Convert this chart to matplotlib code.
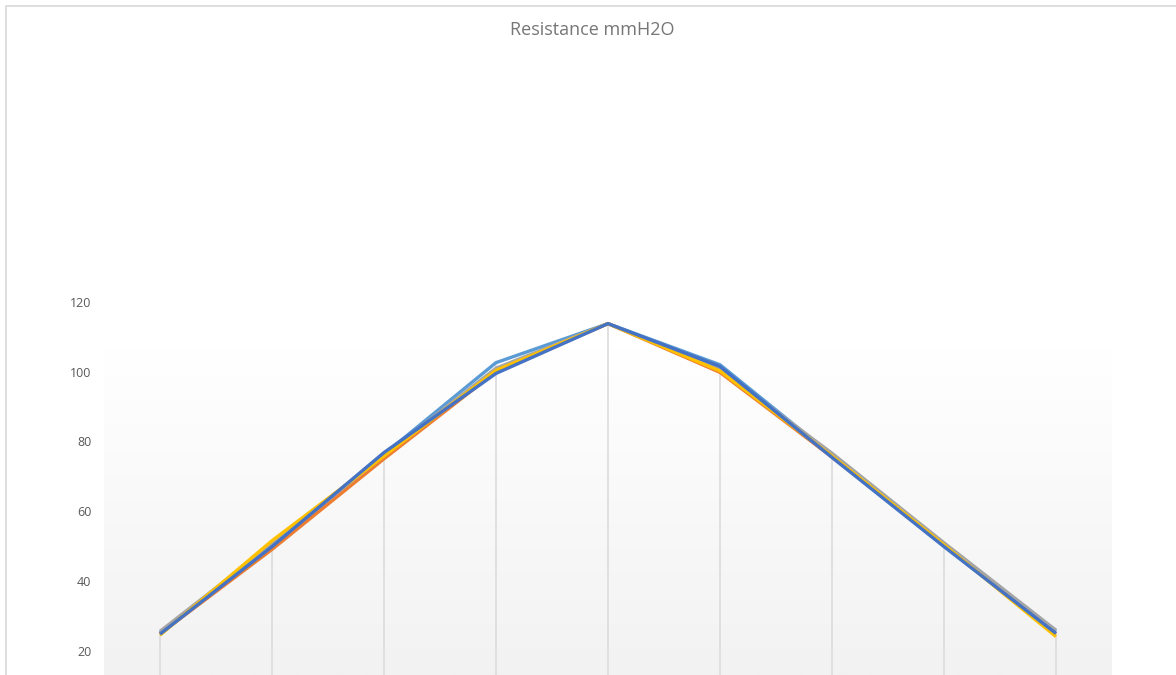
import numpy as np
import matplotlib
matplotlib.use("Agg")
import matplotlib.pyplot as plt
from matplotlib.patches import Rectangle

# Nine measuring points, five runs
points = list(range(1, 10))
run_a = [25.2, 50.0, 76.3, 102.6, 113.8, 102.0, 76.0, 50.5, 25.6]
run_b = [24.8, 49.0, 75.0, 100.0, 113.8, 99.8, 75.5, 50.2, 24.8]
run_c = [25.5, 50.5, 76.0, 101.0, 113.8, 100.6, 76.6, 50.9, 25.8]
run_d = [24.4, 51.5, 75.8, 100.4, 113.8, 100.2, 75.8, 50.3, 24.0]
run_e = [24.7, 49.8, 76.8, 99.5, 113.8, 101.5, 75.4, 49.8, 24.9]
yticks = [20, 40, 60, 80, 100, 120]

series = [run_a, run_b, run_c, run_d, run_e]
colors = ["#5B9BD5", "#ED7D31", "#A5A5A5", "#FFC000", "#4472C4"]

W, H = 1176, 675
fig = plt.figure(figsize=(W / 100, H / 100), dpi=100)
fig.patch.set_facecolor("white")

# chart border (only top and left edges fall inside the canvas)
fig.patches.append(Rectangle((6 / W, -0.1), 1.2, (H - 6) / H + 0.1,
                             transform=fig.transFigure, fill=False,
                             edgecolor="#d9d9d9", linewidth=1.2))

px_per_unit = 69.7 / 20
y_top_px, y_bot_px = 302, 675
ymax = 120
ymin = 120 - (y_bot_px - y_top_px) / px_per_unit
left, right = 104, 1112
ax = fig.add_axes([left / W, 0, (right - left) / W, (H - y_top_px) / H])
ax.set_xlim(-0.5, len(points) - 0.5)
ax.set_ylim(ymin, ymax)
ax.patch.set_alpha(0)
for s in ax.spines.values():
    s.set_visible(False)

# plot-area gradient fill, white at top to light grey at the bottom
grad_top = 120 - (350 - y_top_px) / px_per_unit
g = np.linspace(0, 1, 256).reshape(-1, 1)
top_c = np.array([1.0, 1.0, 1.0])
bot_c = np.array([0xf2, 0xf2, 0xf2]) / 255
img = top_c + (bot_c - top_c) * g
img = np.repeat(img[:, None, :], 2, axis=1).reshape(256, 2, 3)
ax.imshow(img, extent=(-0.5, len(points) - 0.5, ymin, grad_top),
          aspect="auto", origin="upper", zorder=0, interpolation="bilinear")

x = np.arange(len(points))
# drop lines from the highest value down to the axis
tops = np.max(np.array(series), axis=0)
ax.vlines(x, ymin, tops, colors="#dcdcdc", linewidth=1.2, zorder=1)

for vals, c in zip(series, colors):
    ax.plot(x, vals, color=c, linewidth=2.4, zorder=3,
            solid_joinstyle="round", solid_capstyle="butt")

ax.set_yticks(yticks)
ax.set_yticklabels([str(t) for t in yticks])
ax.tick_params(axis="y", length=0, pad=9, labelsize=9, labelcolor="#595959")
ax.set_xticks([])
for lab in ax.get_yticklabels():
    lab.set_fontfamily("Open Sans")

fig.text(592 / W, 1 - 30 / H, "Resistance mmH2O", ha="center", va="center",
         fontsize=13, color="#767676", family="Open Sans")

fig.savefig("out.png", dpi=100)
